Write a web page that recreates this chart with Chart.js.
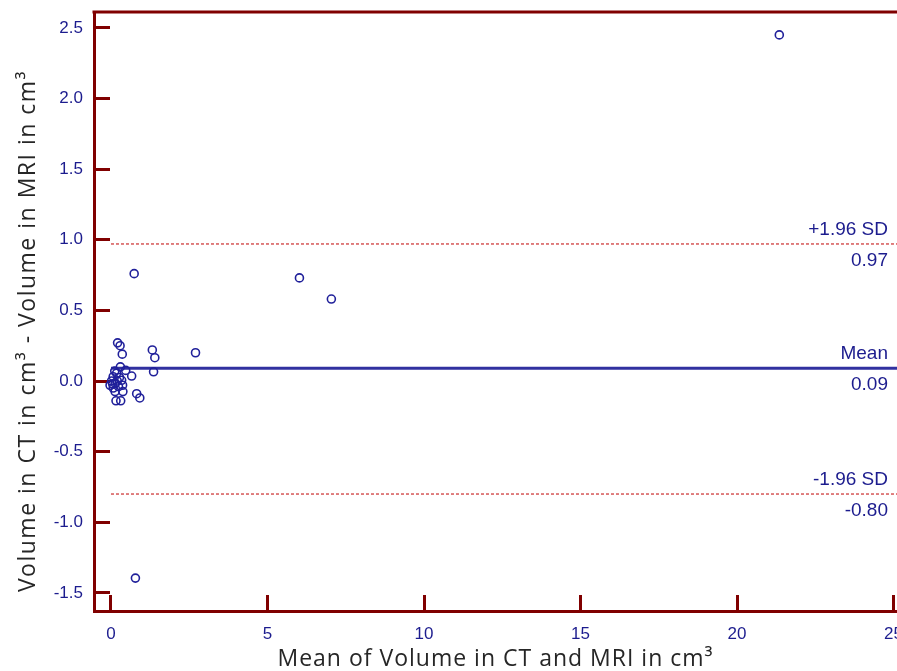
<!DOCTYPE html>
<html>
<head>
<meta charset="utf-8">
<script src="https://cdn.jsdelivr.net/npm/chart.js@4.4.1/dist/chart.umd.min.js"></script>
<style>
  html, body { margin: 0; padding: 0; background: #fff; overflow: hidden; }
  #wrap { width: 897px; height: 671px; position: relative; }
  canvas { display: block; }
</style>
</head>
<body>
<div id="wrap"><canvas id="baChart"></canvas></div>
<script>
// Bland-Altman: mean of CT and MRI volume (x) vs difference CT - MRI (y), cm³
const meanVol = [21.35, 0.74, 6.02, 7.04, 2.70, 1.32, 1.40, 1.36, 0.78, 0.82, 0.92,
                 0.21, 0.29, 0.36, 0.30, 0.18, 0.47, 0.66, 0.07, 0.27, 0.12, 0.02,
                 0.13, 0.34, -0.03, 0.07, 0.37, 0.38, 0.13, 0.16, 0.31, 0.24, 0.05, 0.20];
const diffVol = [2.45, 0.76, 0.73, 0.58, 0.20, 0.22, 0.165, 0.065, -1.395, -0.09, -0.12,
                 0.27, 0.25, 0.19, 0.10, 0.055, 0.075, 0.035, 0.03, 0.025, 0.07, 0.00,
                 -0.015, 0.005, -0.03, -0.05, -0.03, -0.075, -0.075, -0.14, -0.14, -0.04, -0.02, 0.00];

const xTicks = [0, 5, 10, 15, 20, 25];
const yTicks = [-1.5, -1.0, -0.5, 0.0, 0.5, 1.0, 1.5, 2.0, 2.5];

const refNames = ['+1.96 SD', 'Mean', '-1.96 SD'];
const refValues = [0.97, 0.09, -0.80];

const xTitle = 'Mean of Volume in CT and MRI in cm³';
const yTitle = 'Volume in CT in cm³ - Volume in MRI in cm³';

const xMin = -0.543, xMax = 25.11;
const yMin = -1.628, yMax = 2.612;

const maroon = '#800000';
const navy = '#1c1c8e';

const points = meanVol.map((x, i) => ({ x: x, y: diffVol[i] }));

function refLine(v, i) {
  const isMean = refNames[i] === 'Mean';
  return {
    data: [{ x: 0, y: v }, { x: xMax, y: v }],
    showLine: true,
    pointRadius: 0,
    borderColor: isMean ? '#3131a0' : '#c00000',
    borderWidth: isMean ? 3 : 1,
    borderDash: isMean ? [] : [3, 2]
  };
}

// top frame line, reference line labels and axis titles
const extras = {
  id: 'extras',
  afterDraw(chart) {
    const ctx = chart.ctx;
    const area = chart.chartArea;
    const ys = chart.scales.y;
    ctx.save();
    ctx.strokeStyle = maroon;
    ctx.lineWidth = 3;
    ctx.beginPath();
    ctx.moveTo(area.left - 1.5, area.top);
    ctx.lineTo(area.right, area.top);
    ctx.stroke();

    ctx.fillStyle = navy;
    ctx.font = '19px "Liberation Sans", Arial, sans-serif';
    ctx.textAlign = 'right';
    ctx.textBaseline = 'alphabetic';
    refValues.forEach((v, i) => {
      const py = ys.getPixelForValue(v);
      ctx.fillText(refNames[i], area.right - 9, py - 9);
      ctx.fillText(v.toFixed(2), area.right - 9, py + 22);
    });

    ctx.fillStyle = '#262626';
    ctx.font = '23px "Open Sans", sans-serif';
    ctx.textAlign = 'center';
    ctx.letterSpacing = '1px';
    ctx.fillText(xTitle, (area.left + area.right) / 2, 666);
    ctx.letterSpacing = '1.5px';
    ctx.translate(35, 331);
    ctx.rotate(-Math.PI / 2);
    ctx.fillText(yTitle, 0, 0);
    ctx.restore();
  }
};

new Chart(document.getElementById('baChart'), {
  type: 'scatter',
  data: {
    datasets: [
      {
        data: points,
        pointRadius: 4,
        pointBorderWidth: 1.6,
        pointBorderColor: '#20209a',
        pointBackgroundColor: 'rgba(255,255,255,0)'
      }
    ].concat(refValues.map(refLine))
  },
  options: {
    responsive: true,
    maintainAspectRatio: false,
    animation: false,
    devicePixelRatio: 1,
    layout: { autoPadding: false, padding: { top: 12, right: 0, bottom: 0, left: 0 } },
    plugins: { legend: { display: false }, tooltip: { enabled: false } },
    scales: {
      x: {
        type: 'linear',
        min: xMin,
        max: xMax,
        afterBuildTicks: s => { s.ticks = xTicks.map(v => ({ value: v })); },
        afterFit: s => { s.height = 60; s.paddingLeft = 0; s.paddingRight = 0; },
        border: { color: maroon, width: 3 },
        grid: { drawOnChartArea: false, tickLength: -16, tickColor: maroon, tickWidth: 3 },
        ticks: {
          padding: 29,
          color: navy,
          maxRotation: 0,
          autoSkip: false,
          font: { family: '"Liberation Sans", Arial, sans-serif', size: 17 },
          callback: v => String(v)
        }
      },
      y: {
        type: 'linear',
        min: yMin,
        max: yMax,
        afterBuildTicks: s => { s.ticks = yTicks.map(v => ({ value: v })); },
        afterFit: s => { s.width = 94; s.paddingTop = 0; s.paddingBottom = 0; },
        border: { color: maroon, width: 3 },
        grid: { drawOnChartArea: false, tickLength: -16, tickColor: maroon, tickWidth: 3 },
        ticks: {
          padding: 27,
          color: navy,
          autoSkip: false,
          font: { family: '"Liberation Sans", Arial, sans-serif', size: 17 },
          callback: v => v.toFixed(1)
        }
      }
    }
  },
  plugins: [extras]
});
</script>
</body>
</html>
